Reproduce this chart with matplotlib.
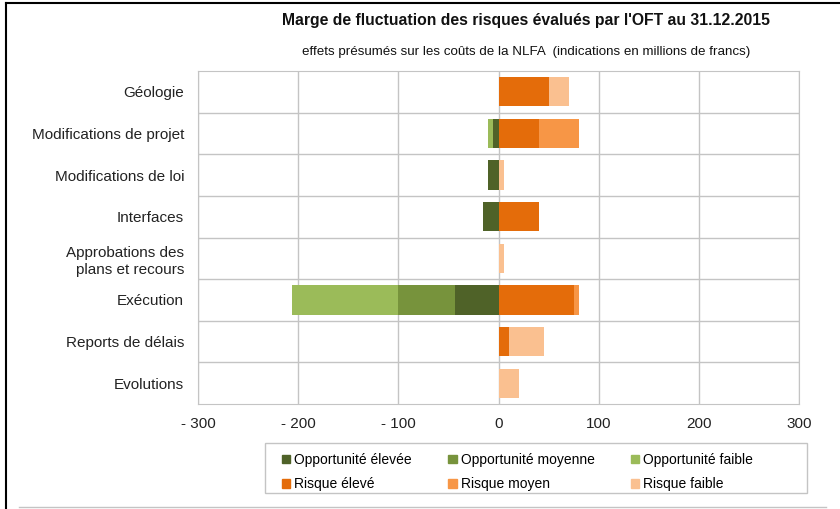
import numpy as np
import matplotlib.pyplot as plt
from matplotlib.patches import Patch, Rectangle
from matplotlib.lines import Line2D

plt.rcParams['font.family'] = ['Liberation Sans', 'DejaVu Sans']

categories = ['Géologie', 'Modifications de projet', 'Modifications de loi', 'Interfaces',
              'Approbations des\nplans et recours', 'Exécution', 'Reports de délais', 'Evolutions']

# opportunities (negative, millions CHF)
opp_high = [0, -5, -10, -15, 0, -43, 0, 0]
opp_mid = [0, 0, 0, 0, 0, -57, 0, 0]
opp_low = [0, -5, 0, 0, 0, -106, 0, 0]
# risks (positive)
risk_high = [50, 40, 0, 40, 0, 75, 10, 0]
risk_mid = [0, 40, 0, 0, 0, 5, 0, 0]
risk_low = [20, 0, 5, 0, 5, 0, 35, 20]

ticks = [-300, -200, -100, 0, 100, 200, 300]
tick_labels = ['- 300', '- 200', '- 100', '0', '100', '200', '300']

c_opp = ['#4F6228', '#77933C', '#9BBB59']
c_risk = ['#E46C0A', '#F79646', '#FAC090']
names_opp = ['Opportunité élevée', 'Opportunité moyenne', 'Opportunité faible']
names_risk = ['Risque élevé', 'Risque moyen', 'Risque faible']

fig = plt.figure(figsize=(8.4, 5.09), dpi=100)
ax = fig.add_axes([198/840, 1 - 404/509, 601/840, 333/509])

y = np.arange(len(categories))
h = 0.7
left = np.zeros(len(categories))
for vals, col in zip([opp_high, opp_mid, opp_low], c_opp):
    v = np.array(vals, dtype=float)
    ax.barh(y, v, left=left, height=h, color=col, edgecolor='none', zorder=3)
    left += v
left = np.zeros(len(categories))
for vals, col in zip([risk_high, risk_mid, risk_low], c_risk):
    v = np.array(vals, dtype=float)
    ax.barh(y, v, left=left, height=h, color=col, edgecolor='none', zorder=3)
    left += v

ax.set_xlim(-300, 300)
ax.set_ylim(len(categories) - 0.5, -0.5)
ax.set_xticks(ticks)
ax.set_xticklabels(tick_labels, fontsize=11, color='#222222')
ax.set_yticks(y)
ax.set_yticklabels(categories, fontsize=11, color='#222222', linespacing=1.25)
ax.tick_params(axis='x', length=0, pad=9)
ax.tick_params(axis='y', length=0, pad=10)
ax.grid(axis='x', color='#c4c4c4', linewidth=1, zorder=0)
for b in np.arange(0.5, len(categories) - 0.5, 1):
    ax.axhline(b, color='#c4c4c4', linewidth=1, zorder=0)
for s in ax.spines.values():
    s.set_color('#c4c4c4')

fig.text(526/840, 1 - 20/509, "Marge de fluctuation des risques évalués par l'OFT au 31.12.2015",
         ha='center', va='center', fontsize=11.3, fontweight='bold', color='#111111')
fig.text(526/840, 1 - 52/509,
         'effets présumés sur les coûts de la NLFA  (indications en millions de francs)',
         ha='center', va='center', fontsize=9.6, color='#111111')

handles = []
for i in range(3):
    handles.append(Patch(color=c_opp[i], label=names_opp[i]))
    handles.append(Patch(color=c_risk[i], label=names_risk[i]))
leg = fig.legend(handles=handles, ncol=3, loc='upper left', bbox_to_anchor=(275/840, 1 - 446/509),
                 fontsize=10, frameon=False,
                 handlelength=0.6, handleheight=0.6, handletextpad=0.3, columnspacing=2.6,
                 labelspacing=0.75, borderpad=0.0)
fig.add_artist(Rectangle((265/840, 1 - 493/509), 542/840, 50/509, transform=fig.transFigure,
                         fill=False, edgecolor='#c4c4c4', linewidth=1))

# outer frame lines
fig.add_artist(Line2D([6/840, 6/840], [0, 1 - 3/509], color='black', linewidth=1.5))
fig.add_artist(Line2D([6/840, 1], [1 - 3/509, 1 - 3/509], color='black', linewidth=1.5))
fig.add_artist(Line2D([19/840, 826/840], [1 - 507/509, 1 - 507/509], color='#c4c4c4', linewidth=1))

fig.savefig('out.png', dpi=100)
